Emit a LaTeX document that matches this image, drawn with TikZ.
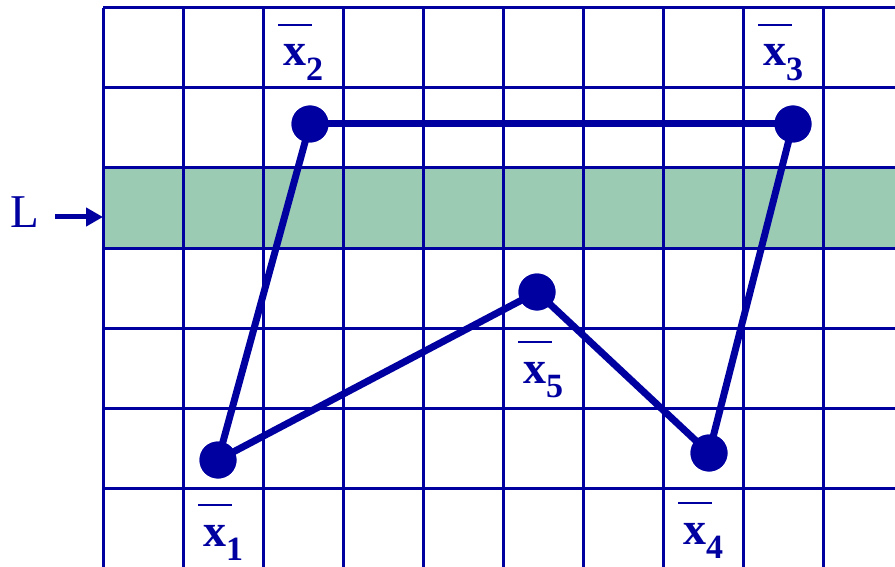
\documentclass[tikz,border=0pt]{standalone}
\usepackage{fontspec}
\setmainfont{Liberation Serif}
\usetikzlibrary{arrows.meta}
\definecolor{navy}{RGB}{0,0,160}
\definecolor{bandgreen}{RGB}{156,203,180}
\newcommand{\xlab}[1]{\makebox[0pt][l]{\hspace{-0.11em}\raisebox{0.86em}{\rule{0.74em}{0.045em}}}x\raisebox{-0.32em}{\fontsize{34pt}{34pt}\selectfont #1}}
\tikzset{
  gridline/.style={navy, line width=3pt},
  edge/.style={navy, line width=7pt},
  vertex/.style={circle, fill=navy, draw=none, minimum size=37pt, inner sep=0pt},
  ptlabel/.style={navy, anchor=base west, inner sep=0pt, font=\fontsize{46pt}{46pt}\selectfont\bfseries},
}
\begin{document}
\begin{tikzpicture}[x=1pt,y=-1pt]
\useasboundingbox (0,0) rectangle (895,567);
\fill[white] (0,0) rectangle (895,567);
% band
\node[fill=bandgreen, draw=none, minimum width=800pt, minimum height=80pt, inner sep=0pt, anchor=north west] (band) at (103,168) {};
% grid
\foreach \gx in {103,183,...,903} \draw[gridline] (\gx,8) -- (\gx,580);
\foreach \gy in {8,88,...,488} \draw[gridline] (103,\gy) -- (910,\gy);
% L label and arrow
\node[navy, anchor=base west, inner sep=0pt, font=\fontsize{47pt}{47pt}\selectfont] (Lt) at (10,228) {L};
\coordinate (Lend) at (band.west);
\draw[navy, line width=5pt, -{Triangle[length=17pt,width=18pt]}] (55,217) -- (Lend |- 0,217);
% points
\node[vertex] (p1) at (218,460) {};
\node[vertex] (p2) at (310,124) {};
\node[vertex] (p3) at (793,124) {};
\node[vertex] (p4) at (709,453) {};
\node[vertex] (p5) at (537,292) {};
\draw[edge] (p1.center) -- (p2.center);
\draw[edge] (p2.center) -- (p3.center);
\draw[edge] (p3.center) -- (p4.center);
\draw[edge] (p4.center) -- (p5.center);
\draw[edge] (p5.center) -- (p1.center);
\node[vertex] at (p1) {};
\node[vertex] at (p2) {};
\node[vertex] at (p3) {};
\node[vertex] at (p4) {};
\node[vertex] at (p5) {};
% labels
\node[ptlabel] (l1) at (203,546) {\xlab{1}};
\node[ptlabel] (l2) at (283,66) {\xlab{2}};
\node[ptlabel] (l3) at (763,66) {\xlab{3}};
\node[ptlabel] (l4) at (683,544) {\xlab{4}};
\node[ptlabel] (l5) at (523,383) {\xlab{5}};
\end{tikzpicture}
\end{document}
